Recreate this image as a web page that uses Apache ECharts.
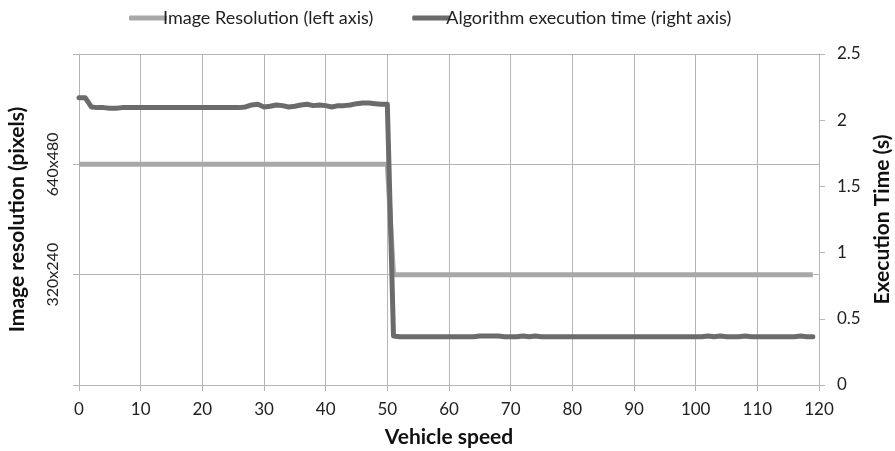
<!DOCTYPE html>
<html><head><meta charset="utf-8">
<script src="https://cdn.jsdelivr.net/npm/echarts@6/dist/echarts.min.js"></script>
<style>html,body{margin:0;padding:0;background:#fff}#c{width:895px;height:451px}</style>
</head><body><div id="c"></div>
<script>
// Vehicle speed categories 0..120
const speeds = [];
for (let s = 0; s <= 120; s++) speeds.push(s);
// Image resolution level (1 = 320x240, 2 = 640x480)
const resolutionLevels = [
 2,2,2,2,2,2,2,2,2,2, 2,2,2,2,2,2,2,2,2,2, 2,2,2,2,2,2,2,2,2,2,
 2,2,2,2,2,2,2,2,2,2, 2,2,2,2,2,2,2,2,2,2, 2,
 1,1,1,1,1,1,1,1,1, 1,1,1,1,1,1,1,1,1,1, 1,1,1,1,1,1,1,1,1,1,
 1,1,1,1,1,1,1,1,1,1, 1,1,1,1,1,1,1,1,1,1, 1,1,1,1,1,1,1,1,1,1,
 1,1,1,1,1,1,1,1,1,1
];
const resolutionTickLabels = ['', '320x240', '640x480', ''];
// Execution time (s)
const execTime = [
 2.17,2.17,2.10,2.095,2.095,2.09,2.09,2.095,2.095,2.095,
 2.095,2.095,2.095,2.095,2.095,2.095,2.095,2.095,2.095,2.095,
 2.095,2.095,2.095,2.095,2.095,2.095,2.095,2.10,2.115,2.12,
 2.10,2.105,2.115,2.11,2.10,2.105,2.115,2.12,2.11,2.115,
 2.11,2.10,2.11,2.11,2.115,2.125,2.13,2.13,2.125,2.12,
 2.12,
 0.37,0.365,0.365,0.365,0.365,0.365,0.365,0.365,0.365,
 0.365,0.365,0.365,0.365,0.365,0.37,0.37,0.37,0.37,0.365,
 0.365,0.365,0.37,0.365,0.37,0.365,0.365,0.365,0.365,0.365,
 0.365,0.365,0.365,0.365,0.365,0.365,0.365,0.365,0.365,0.365,
 0.365,0.365,0.365,0.365,0.365,0.365,0.365,0.365,0.365,0.365,
 0.365,0.365,0.37,0.365,0.37,0.365,0.365,0.365,0.37,0.365,
 0.365,0.365,0.365,0.365,0.365,0.365,0.365,0.37,0.365,0.365
];
const FONT = 'Lato';
const LIGHT = '#a8a8a8', DARK = '#6b6b6b', AX = '#b5b5b5';
const titleStyle = {fontFamily: FONT, fontWeight: 'bold', fontSize: 21, color: '#111'};
const chart = echarts.init(document.getElementById('c'), null, {renderer: 'canvas'});
chart.setOption({
  animation: false,
  textStyle: {fontFamily: FONT},
  legend: {
    top: 4, left: 124, itemWidth: 38, itemHeight: 5, itemGap: 39, icon: 'roundRect',
    textStyle: {fontFamily: FONT, fontSize: 18, color: '#222', padding: [0,0,0,-9]},
    data: ['Image Resolution (left axis)', 'Algorithm execution time (right axis)']
  },
  grid: {left: 79, right: 76, top: 54, bottom: 66, outerBoundsMode: 'none', containLabel: false},
  xAxis: {
    type: 'value', min: 0, max: 120, interval: 10,
    name: 'Vehicle speed', nameLocation: 'middle', nameGap: 42,
    nameTextStyle: titleStyle,
    axisLine: {lineStyle: {color: AX, width: 1}},
    axisTick: {show: true, length: 6, lineStyle: {color: AX}},
    axisLabel: {fontFamily: FONT, fontSize: 17, color: '#222', margin: 16},
    splitLine: {show: true, lineStyle: {color: AX, width: 1}}
  },
  yAxis: [{
    type: 'value', min: 0, max: 3, interval: 1, position: 'left',
    name: 'Image resolution (pixels)', nameLocation: 'middle', nameRotate: 90, nameGap: 51,
    nameTextStyle: titleStyle,
    axisLine: {show: true, lineStyle: {color: AX}},
    axisTick: {show: true, length: 6, lineStyle: {color: AX}},
    axisLabel: {rotate: 90, fontFamily: FONT, fontSize: 16, color: '#222', margin: 18,
      formatter: v => resolutionTickLabels[v] || ''},
    splitLine: {show: true, lineStyle: {color: AX, width: 1}}
  }, {
    type: 'value', min: 0, max: 2.5, interval: 0.5, position: 'right',
    name: 'Execution Time (s)', nameLocation: 'middle', nameRotate: 90, nameGap: 49,
    nameTextStyle: titleStyle,
    axisLine: {show: true, lineStyle: {color: AX}},
    axisTick: {show: true, length: 6, lineStyle: {color: AX}},
    axisLabel: {fontFamily: FONT, fontSize: 17, color: '#222', margin: 18},
    splitLine: {show: false}
  }],
  series: [{
    name: 'Image Resolution (left axis)', type: 'line', yAxisIndex: 0,
    data: speeds.map((s, i) => [s, resolutionLevels[i]]),
    showSymbol: false, symbol: 'none', lineStyle: {color: LIGHT, width: 5}, itemStyle: {color: LIGHT}, z: 2
  }, {
    name: 'Algorithm execution time (right axis)', type: 'line', yAxisIndex: 1,
    data: speeds.map((s, i) => [s, execTime[i]]),
    showSymbol: false, symbol: 'none', lineStyle: {color: DARK, width: 5, join: 'round', cap: 'round'}, itemStyle: {color: DARK}, z: 3
  }]
});
</script></body></html>
